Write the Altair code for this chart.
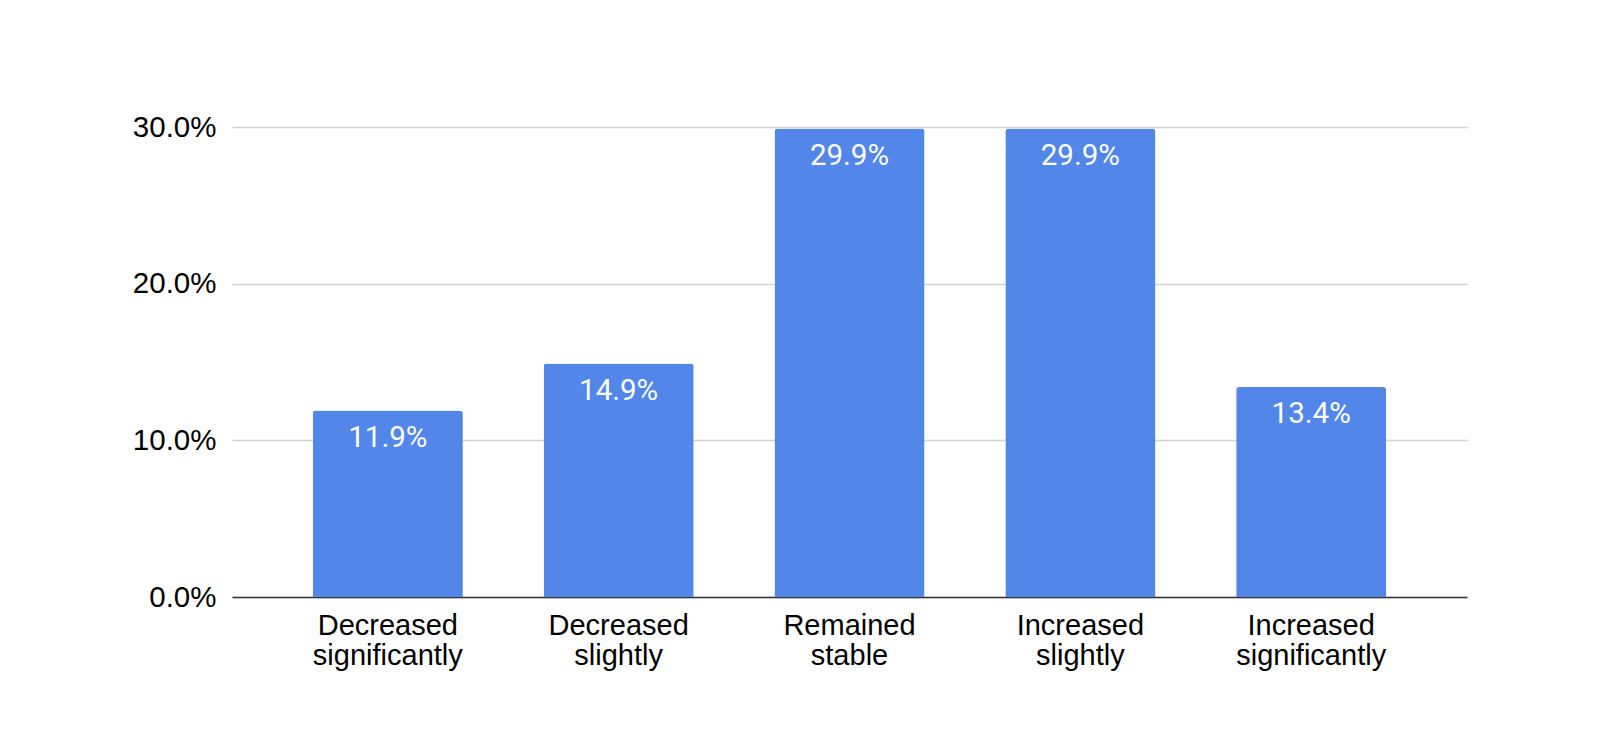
import altair as alt
import pandas as pd

categories = ["Decreased significantly", "Decreased slightly", "Remained stable",
              "Increased slightly", "Increased significantly"]
values = [0.119, 0.149, 0.299, 0.299, 0.134]
labels = ["11.9%", "14.9%", "29.9%", "29.9%", "13.4%"]
y_ticks = [0.0, 0.1, 0.2, 0.3]

df = pd.DataFrame({"category": categories, "value": values, "label": labels})

x = alt.X("category:N", sort=None, title=None,
          scale=alt.Scale(paddingInner=0.35, paddingOuter=0.35),
          axis=alt.Axis(labelAngle=0, labelExpr="split(datum.label, ' ')",
                        labelFont="Liberation Sans", labelFontSize=29, labelLineHeight=30,
                        labelColor="#000000", labelPadding=14, ticks=False,
                        domainColor="#333333", domainWidth=1.5, grid=False))
y = alt.Y("value:Q", title=None,
          scale=alt.Scale(domain=[0, 0.3], nice=False),
          axis=alt.Axis(values=y_ticks, format=".1%", labelFont="Liberation Sans",
                        labelFontSize=29.5, labelColor="#000000", labelPadding=16,
                        ticks=False, domain=False, gridColor="#d3d3d3", gridWidth=1.5))

bars = alt.Chart(df).mark_bar(color="#5286E9", cornerRadiusTopLeft=3,
                              cornerRadiusTopRight=3).encode(x=x, y=y)
text = alt.Chart(df).mark_text(color="#ffffff", font="Roboto", fontSize=29.5,
                               baseline="alphabetic", dy=36).encode(
    x=alt.X("category:N", sort=None), y=alt.Y("value:Q"), text="label:N")

chart = (bars + text).properties(
    width=1235, height=470,
    background="#ffffff",
    autosize=alt.AutoSizeParams(type="none"),
    padding={"left": 224, "top": 119, "right": 130, "bottom": 120},
).configure_view(strokeWidth=0, stroke="transparent")

chart.save("out.html", embed_options={"renderer": "svg", "actions": False})
